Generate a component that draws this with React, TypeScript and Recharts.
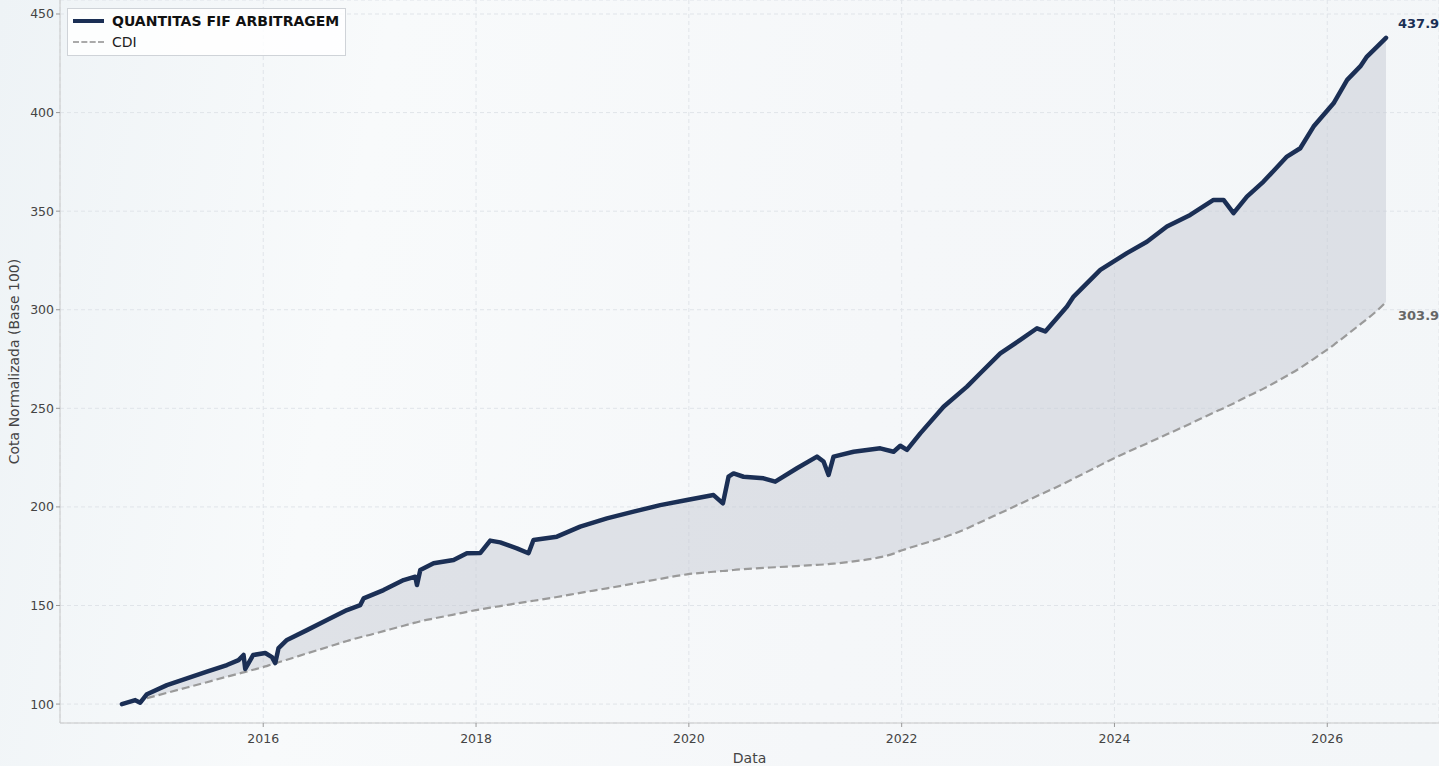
import {
  ComposedChart,
  Line,
  Area,
  XAxis,
  YAxis,
  CartesianGrid
} from "recharts"

// decimal years
const dates = [
  2014.672, 2014.797, 2014.844, 2014.907, 2015.095, 2015.283, 2015.471, 2015.659, 2015.768, 2015.815,
  2015.831, 2015.906, 2016.019, 2016.082, 2016.113, 2016.144, 2016.223, 2016.411, 2016.599, 2016.787,
  2016.912, 2016.943, 2017.131, 2017.319, 2017.429, 2017.445, 2017.476, 2017.601, 2017.789, 2017.914,
  2018.039, 2018.133, 2018.227, 2018.384, 2018.493, 2018.54, 2018.76, 2018.979, 2019.23, 2019.48,
  2019.731, 2019.982, 2020.232, 2020.32, 2020.373, 2020.42, 2020.514, 2020.702, 2020.812, 2021.016,
  2021.204, 2021.266, 2021.313, 2021.36, 2021.548, 2021.799, 2021.924, 2021.987, 2022.05, 2022.175,
  2022.394, 2022.614, 2022.739, 2022.927, 2023.115, 2023.272, 2023.35, 2023.554, 2023.616, 2023.867,
  2024.117, 2024.305, 2024.493, 2024.712, 2024.931, 2025.025, 2025.119, 2025.245, 2025.401, 2025.621,
  2025.746, 2025.871, 2026.059, 2026.187, 2026.31, 2026.373, 2026.469, 2026.552
]

const fund = [
  100, 102, 100.7, 105, 109.6, 113, 116.4, 119.8, 122.3, 124.9,
  117.8, 124.9, 125.9, 123.8, 120.8, 128.4, 132.5, 137.5, 142.6, 147.7,
  150.2, 153.6, 157.8, 162.9, 164.6, 160.4, 168, 171.4, 173.1, 176.5,
  176.6, 182.9, 182, 179, 176.5, 183.2, 184.9, 190, 194.2, 197.6,
  200.9, 203.5, 206, 201.8, 215.3, 217, 215.3, 214.5, 212.8, 219.6,
  225.5, 223, 216.2, 225.5, 228, 229.7, 228, 231, 228.9, 237.3,
  250.8, 261, 267.8, 277.9, 284.7, 290.6, 289, 301.6, 306.7, 320.2,
  328.7, 334.5, 342.2, 348.1, 355.7, 355.7, 349, 357.4, 365, 377.7,
  381.9, 392.9, 404.7, 416.6, 423.4, 428.4, 433.5, 437.9
]

const cdi: (number | null)[] = [
  null, null, null, 103, 105.7, 108.4, 111.1, 113.9, 115.4, 116.1,
  116.3, 117.4, 119.1, 120.2, 120.7, 121.2, 122.5, 125.7, 128.8, 132,
  133.9, 134.3, 137, 139.7, 141.3, 141.5, 142, 143.4, 145.4, 146.8,
  148, 148.9, 149.7, 151.1, 152, 152.4, 154.3, 156.4, 158.7, 161.1,
  163.5, 165.8, 167.1, 167.5, 167.7, 168, 168.4, 169.1, 169.4, 170,
  170.6, 170.8, 171, 171.2, 172.4, 174.5, 176.3, 177.7, 178.8, 180.9,
  184.5, 189.1, 192.2, 196.9, 201.6, 205.5, 207.4, 212.6, 214.3, 221.2,
  227.7, 232.2, 236.8, 242.2, 247.8, 250.1, 252.5, 255.9, 260, 266.5,
  270.5, 275, 282.1, 287.4, 292.6, 295.3, 299.6, 303.9
]

const xTicks = [2016, 2018, 2020, 2022, 2024, 2026]
const yTicks = [100, 150, 200, 250, 300, 350, 400, 450]

const rows = dates.map((d, i) => ({
  date: d,
  fund: fund[i],
  cdi: cdi[i],
  band: cdi[i] == null ? null : [cdi[i], fund[i]]
}))

const last = dates.length - 1
const font = "'DejaVu Sans', sans-serif"

function EndLabel(color: string, dy: number) {
  return (props: any) => {
    if (props.index !== last) return null
    return (
      <text
        x={props.x + 12}
        y={props.y + dy}
        fill={color}
        fontSize={13}
        fontWeight="bold"
        fontFamily={font}
        dominantBaseline="central"
      >
        {props.value.toFixed(1)}
      </text>
    )
  }
}

function LegendBox() {
  return (
    <div
      style={{
        position: "absolute",
        left: 67,
        top: 8,
        width: 279,
        height: 48,
        border: "1px solid #cfd3d8",
        background: "rgba(255,255,255,0.85)",
        fontFamily: font,
        fontSize: 14,
        lineHeight: "16px",
        boxSizing: "border-box"
      }}
    >
      <div style={{ position: "absolute", left: 5, top: 10, width: 31, height: 4, background: "#1b2f55" }} />
      <div style={{ position: "absolute", left: 44, top: 4, fontWeight: "bold", color: "#111" }}>
        QUANTITAS FIF ARBITRAGEM
      </div>
      <div
        style={{
          position: "absolute",
          left: 5,
          top: 32,
          width: 31,
          height: 0,
          borderTop: "2px dashed #aaaaaa"
        }}
      />
      <div style={{ position: "absolute", left: 44, top: 25, color: "#222" }}>CDI</div>
    </div>
  )
}

export default function App() {
  return (
    <div
      style={{
        position: "fixed",
        left: 0,
        top: 0,
        width: 1439,
        height: 766,
        overflow: "hidden",
        background: "linear-gradient(100deg, #eef3f6 0%, #f8fafb 25%, #f5f7f9 60%, #f3f6f8 100%)"
      }}
    >
      <ComposedChart
        width={1439}
        height={766}
        data={rows}
        margin={{ top: 0, right: 0, bottom: 0, left: 0 }}
      >
        <CartesianGrid stroke="#e0e4e9" strokeDasharray="4 3" />
        <XAxis
          dataKey="date"
          type="number"
          domain={[2014.09, 2027.05]}
          ticks={xTicks}
          allowDataOverflow
          height={43}
          stroke="#c8c8c8"
          tick={{ fill: "#444", fontSize: 12.5, fontFamily: font }}
          tickLine={{ stroke: "#999" }}
          tickSize={4}
          tickMargin={7}
          label={{ value: "Data", position: "insideBottom", offset: 3, fill: "#444", fontSize: 14, fontFamily: font }}
        />
        <YAxis
          type="number"
          domain={[90.4, 457.1]}
          ticks={yTicks}
          allowDataOverflow
          width={60}
          stroke="#c8c8c8"
          tick={{ fill: "#444", fontSize: 12.5, fontFamily: font }}
          tickLine={{ stroke: "#999" }}
          tickSize={4}
          label={{
            value: "Cota Normalizada (Base 100)",
            angle: -90,
            position: "insideLeft",
            offset: 14,
            style: { textAnchor: "middle" },
            fill: "#444",
            fontSize: 14,
            fontFamily: font
          }}
        />
        <Area
          dataKey="band"
          type="linear"
          stroke="none"
          fill="#c5cad3"
          fillOpacity={0.5}
          isAnimationActive={false}
        />
        <Line
          dataKey="cdi"
          type="monotone"
          stroke="#9a9a9a"
          strokeWidth={2.2}
          strokeDasharray="8 4"
          dot={false}
          isAnimationActive={false}
          label={EndLabel("#666666", 13)}
        />
        <Line
          dataKey="fund"
          type="linear"
          stroke="#1b2f55"
          strokeWidth={4.5}
          strokeLinejoin="round"
          strokeLinecap="round"
          dot={false}
          isAnimationActive={false}
          label={EndLabel("#1b2f55", -14)}
        />
      </ComposedChart>
      <LegendBox />
    </div>
  )
}
